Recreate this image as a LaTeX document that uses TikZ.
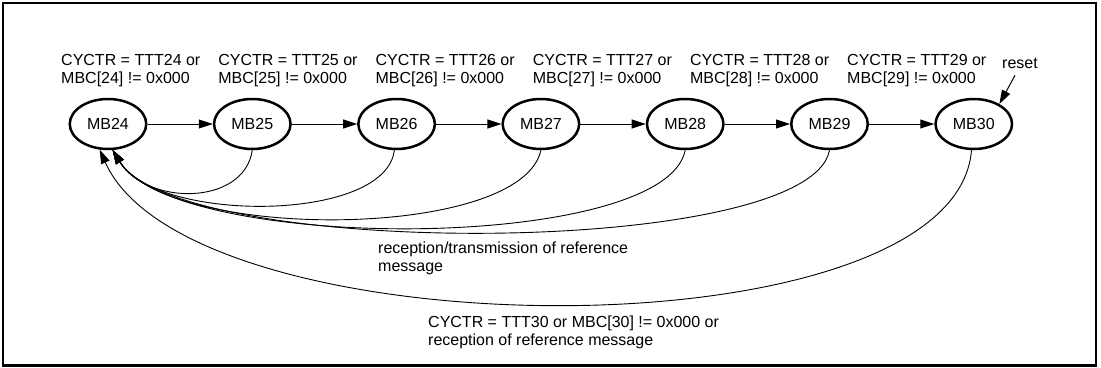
\documentclass[tikz,border=0pt]{standalone}
\usepackage{fontspec}
\setmainfont{Liberation Sans}
\usetikzlibrary{arrows.meta,shapes.geometric}
\begin{document}
\begin{tikzpicture}[x=1pt,y=-1pt,
  txt/.style={font=\fontsize{16}{18.4}\selectfont},
  mb/.style={txt, draw, ellipse, line width=2.5pt, minimum width=76.5pt, minimum height=50pt, inner sep=0pt},
  lbl/.style={txt, inner sep=0pt, align=left, anchor=base west},
  arr/.style={line width=1pt, -{Triangle[length=14pt,width=9pt]}},
  ret/.style={line width=0.9pt, -{Triangle[length=14pt,width=9pt]}},
]
\useasboundingbox (0,0) rectangle (1101,367);
\draw[line width=2.4pt] (2.8,2.8) rectangle (1095.7,365.3);

% states
\node[mb] (mb24) at (108,124) {MB24};
\node[mb] (mb25) at (252.3,124) {MB25};
\node[mb] (mb26) at (396.6,124) {MB26};
\node[mb] (mb27) at (540.9,124) {MB27};
\node[mb] (mb28) at (685.2,124) {MB28};
\node[mb] (mb29) at (829.5,124) {MB29};
\node[mb] (mb30) at (973.8,124) {MB30};

% condition labels (base anchor = baseline of the last line)
\node[lbl] (c24) at (61,83.4) {CYCTR = TTT24 or\\MBC[24] != 0x000};
\node[lbl] (c25) at (218.2,83.4) {CYCTR = TTT25 or\\MBC[25] != 0x000};
\node[lbl] (c26) at (375.4,83.4) {CYCTR = TTT26 or\\MBC[26] != 0x000};
\node[lbl] (c27) at (532.6,83.4) {CYCTR = TTT27 or\\MBC[27] != 0x000};
\node[lbl] (c28) at (689.8,83.4) {CYCTR = TTT28 or\\MBC[28] != 0x000};
\node[lbl] (c29) at (847,83.4) {CYCTR = TTT29 or\\MBC[29] != 0x000};
\node[lbl] (reset) at (1002,68) {reset};
\node[lbl] (rtx) at (378,271.6) {reception/transmission of reference\\message};
\node[lbl] (c30) at (428,345.6) {CYCTR = TTT30 or MBC[30] != 0x000 or\\reception of reference message};

% forward transitions
\draw[arr] (mb24) -- (mb25);
\draw[arr] (mb25) -- (mb26);
\draw[arr] (mb26) -- (mb27);
\draw[arr] (mb27) -- (mb28);
\draw[arr] (mb28) -- (mb29);
\draw[arr] (mb29) -- (mb30);
\draw[arr] ([xshift=-5pt,yshift=-7pt]reset.south) -- (mb30.38);

% return transitions
\draw[ret] (mb25.south) .. controls (244,206) and (147,206) .. (mb24.-80);
\draw[ret] (mb26.-95) .. controls (386,223) and (157,223) .. (mb24.-80);
\draw[ret] (mb27.south) .. controls (521,241) and (169,241) .. (mb24.-80);
\draw[ret] (mb28.south) .. controls (665,253) and (176,253) .. (mb24.-80);
\draw[ret] (mb29.south) .. controls (809,259) and (180,259) .. (mb24.-80);
\draw[ret] (mb30.-95) .. controls (955,358) and (190,353) .. (mb24.-108);
\end{tikzpicture}
\end{document}
